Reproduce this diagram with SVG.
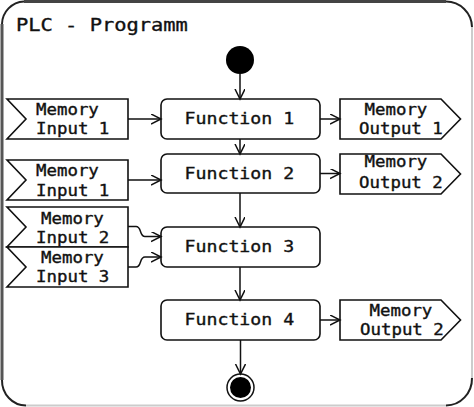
<svg xmlns="http://www.w3.org/2000/svg" width="474" height="407" viewBox="0 0 474 407">
<defs>
<marker id="arr" markerUnits="userSpaceOnUse" markerWidth="12" markerHeight="12" refX="10" refY="5" orient="auto">
<path d="M0,0 L10,5 L0,10" fill="none" stroke="#111" stroke-width="1.5"/>
</marker>
</defs>
<style>
.fn{fill:#fff;stroke:#111;stroke-width:1.6}
.mem{fill:#fff;stroke:#111;stroke-width:1.6}
.t{font-family:"DejaVu Sans Mono","Liberation Mono",monospace;fill:#111;stroke:#111;stroke-width:0.35}
.ft{font-size:16px}
.mt{font-size:15px}
.c{fill:none;stroke:#111;stroke-width:1.5}
</style>
<rect width="474" height="407" fill="#fff"/>
<g id="frame" fill="none">
<line x1="2" y1="24" x2="2" y2="380" stroke="#555" stroke-width="3"/>
<line x1="24" y1="1.5" x2="446" y2="1.5" stroke="#444" stroke-width="3"/>
<line x1="472" y1="27" x2="472" y2="378" stroke="#ccc" stroke-width="2"/>
<line x1="26" y1="405.5" x2="446" y2="405.5" stroke="#ccc" stroke-width="2"/>
<path d="M2,24 A23,23 0 0 1 24,1.5" stroke="#222" stroke-width="2"/>
<path d="M446,1.5 A26,26 0 0 1 472,27" stroke="#222" stroke-width="2"/>
<path d="M472,378 A26,27 0 0 1 446,405.5" stroke="#222" stroke-width="2"/>
<path d="M2,380 A24,25 0 0 0 26,405.5" stroke="#222" stroke-width="2"/>
<text class="t" transform="translate(16,30.5) scale(1.2,1)" font-size="17">PLC - Programm</text>
</g>
<g id="start"><circle cx="240" cy="60" r="14" fill="#000"/></g>
<g id="end"><circle cx="240.5" cy="387.5" r="13.5" fill="#fff" stroke="#111" stroke-width="1.5"/><circle cx="240.5" cy="387.5" r="10.5" fill="#000"/></g>
<g id="f1"><rect class="fn" x="161" y="99" width="159" height="40" rx="6"/><text class="t ft" transform="translate(184.5,123.5) scale(1.14,1)">Function 1</text></g>
<g id="f2"><rect class="fn" x="161" y="154" width="159" height="39" rx="6"/><text class="t ft" transform="translate(184.5,178.5) scale(1.14,1)">Function 2</text></g>
<g id="f3"><rect class="fn" x="161" y="227" width="159" height="40" rx="6"/><text class="t ft" transform="translate(184.5,251.5) scale(1.14,1)">Function 3</text></g>
<g id="f4"><rect class="fn" x="161" y="300" width="159" height="40" rx="6"/><text class="t ft" transform="translate(184.5,325) scale(1.14,1)">Function 4</text></g>
<g id="in1a"><path class="mem" d="M7,99 L128,99 L128,139 L7,139 L26,119 Z"/><text class="t mt" transform="translate(36,115) scale(1.16,1)">Memory</text><text class="t mt" transform="translate(36,134.3) scale(1.16,1)">Input 1</text></g>
<g id="in1b"><path class="mem" d="M7,160 L128,160 L128,200 L7,200 L26,180 Z"/><text class="t mt" transform="translate(36,176) scale(1.16,1)">Memory</text><text class="t mt" transform="translate(36,196) scale(1.16,1)">Input 1</text></g>
<g id="in2"><path class="mem" d="M7,207 L128,207 L128,247 L7,247 L26,227 Z"/><text class="t mt" transform="translate(41,224) scale(1.16,1)">Memory</text><text class="t mt" transform="translate(36,242.7) scale(1.16,1)">Input 2</text></g>
<g id="in3"><path class="mem" d="M7,247 L128,247 L128,287 L7,287 L26,267 Z"/><text class="t mt" transform="translate(41,263.3) scale(1.16,1)">Memory</text><text class="t mt" transform="translate(36,281.7) scale(1.16,1)">Input 3</text></g>
<g id="out1"><path class="mem" d="M340,99 L441,99 L460.5,119 L441,139 L340,139 Z"/><text class="t mt" transform="translate(364.5,115) scale(1.16,1)">Memory</text><text class="t mt" transform="translate(359,134.3) scale(1.16,1)">Output 1</text></g>
<g id="out2a"><path class="mem" d="M340,154 L441,154 L460.5,174 L441,194 L340,194 Z"/><text class="t mt" transform="translate(364.5,167.3) scale(1.16,1)">Memory</text><text class="t mt" transform="translate(359,188.3) scale(1.16,1)">Output 2</text></g>
<g id="out2b"><path class="mem" d="M340,300 L441,300 L460.5,320 L441,340 L340,340 Z"/><text class="t mt" transform="translate(369.5,316) scale(1.16,1)">Memory</text><text class="t mt" transform="translate(360,335) scale(1.16,1)">Output 2</text></g>
<g id="connectors">
<line class="c" x1="240" y1="74" x2="240" y2="99" marker-end="url(#arr)"/>
<line class="c" x1="240" y1="139" x2="240" y2="154" marker-end="url(#arr)"/>
<line class="c" x1="240" y1="193" x2="240" y2="227" marker-end="url(#arr)"/>
<line class="c" x1="240" y1="267" x2="240" y2="300" marker-end="url(#arr)"/>
<line class="c" x1="240.5" y1="340" x2="240.5" y2="374" marker-end="url(#arr)"/>
<line class="c" x1="128" y1="119" x2="161" y2="119" marker-end="url(#arr)"/>
<line class="c" x1="128" y1="180" x2="161" y2="180" marker-end="url(#arr)"/>
<line class="c" x1="320" y1="119" x2="340" y2="119" marker-end="url(#arr)"/>
<line class="c" x1="320" y1="173.5" x2="340" y2="173.5" marker-end="url(#arr)"/>
<line class="c" x1="320" y1="320" x2="340" y2="320" marker-end="url(#arr)"/>
<path class="c" d="M128,226.5 L136,226.5 C142,226.5 139,236.5 145,236.5 L161,236.5" marker-end="url(#arr)"/>
<path class="c" d="M128,267 L136,267 C142,267 139,257 145,257 L161,257" marker-end="url(#arr)"/>
</g>
</svg>
